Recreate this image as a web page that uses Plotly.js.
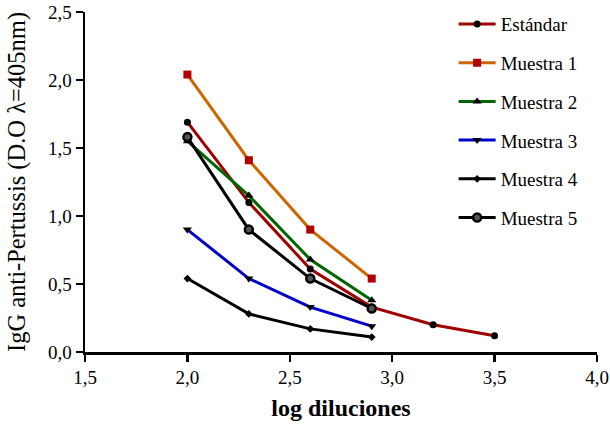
<!DOCTYPE html>
<html>
<head>
<meta charset="utf-8">
<script src="https://cdn.plot.ly/plotly-3.0.1.min.js"></script>
<style>html,body{margin:0;padding:0;background:#fff}#chart{width:610px;height:429px}</style>
</head>
<body>
<div id="chart"></div>
<script>
const logDil = [2.0, 2.3, 2.6, 2.9, 3.2, 3.5];
const estandar = [1.69, 1.10, 0.61, 0.33, 0.20, 0.12];
const muestra1 = [2.04, 1.41, 0.90, 0.54];
const muestra2 = [1.55, 1.15, 0.68, 0.38];
const muestra3 = [0.90, 0.54, 0.33, 0.19];
const muestra4 = [0.54, 0.28, 0.17, 0.11];
const muestra5 = [1.58, 0.90, 0.54, 0.32];
const names = ['Estándar', 'Muestra 1', 'Muestra 2', 'Muestra 3', 'Muestra 4', 'Muestra 5'];
const xTicks = [1.5, 2.0, 2.5, 3.0, 3.5, 4.0];
const yTicks = [0, 0.5, 1.0, 1.5, 2.0, 2.5];

const series = [estandar, muestra1, muestra2, muestra3, muestra4, muestra5];
const lineColors = ['#a00000', '#cc6600', '#006600', '#0000cc', '#000000', '#000000'];
const markerSymbols = ['circle', 'square', 'triangle-up', 'triangle-down', 'diamond', 'circle'];
const markerColors = ['#000000', '#b00000', '#000000', '#000000', '#000000', '#555555'];
const markerSizes = [7, 8, 8, 8, 6, 8];

const traces = series.map((ys, i) => ({
  x: logDil.slice(0, ys.length),
  y: ys,
  name: names[i],
  legendgroup: 'g' + i,
  type: 'scatter',
  mode: 'lines+markers',
  line: {color: lineColors[i], width: 3},
  marker: {
    symbol: markerSymbols[i],
    color: markerColors[i],
    size: markerSizes[i],
    line: {color: '#000000', width: i === 5 ? 2.5 : 0}
  }
}));

const font = 'Liberation Serif';
const layout = {
  width: 610, height: 429,
  margin: {l: 85, r: 13, t: 12, b: 77, autoexpand: false},
  paper_bgcolor: '#fff', plot_bgcolor: '#fff',
  separators: ',.',
  font: {family: font, color: '#000', size: 19},
  showlegend: true,
  legend: {
    x: 0.72, xanchor: 'left', yref: 'container', y: 0.988, yanchor: 'top',
    font: {family: font, size: 19, color: '#000'},
    tracegroupgap: 11, itemwidth: 37, bgcolor: 'rgba(0,0,0,0)',
    maxheight: 400
  },
  xaxis: {
    range: [1.5, 4.0], tickvals: xTicks, tickformat: '.1f',
    showgrid: false, zeroline: false, showline: true, linecolor: '#000', linewidth: 2.5,
    ticks: 'outside', ticklen: 7, tickwidth: 2.5, tickcolor: '#000',
    tickfont: {family: font, size: 19, color: '#000'},
    title: {text: '<b>log diluciones</b>', font: {family: font, size: 24, color: '#000'}, standoff: 12}
  },
  yaxis: {
    range: [0, 2.5], tickvals: yTicks, tickformat: '.1f',
    showgrid: false, zeroline: false, showline: true, linecolor: '#000', linewidth: 2.5,
    ticks: 'outside', ticklen: 7, tickwidth: 2.5, tickcolor: '#000',
    tickfont: {family: font, size: 19, color: '#000'},
    title: {text: 'IgG anti-Pertussis (D.O λ=405nm)', font: {family: font, size: 24.5, color: '#000'}, standoff: 16}
  }
};

Plotly.newPlot('chart', traces, layout, {displayModeBar: false, staticPlot: true});
</script>
</body>
</html>
